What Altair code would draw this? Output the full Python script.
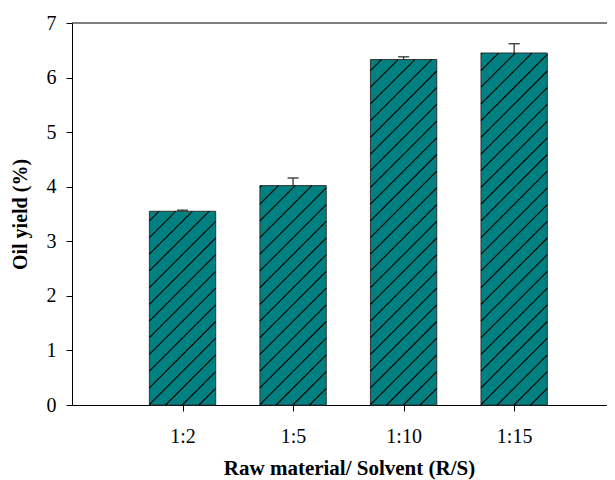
import altair as alt
import pandas as pd

# ---- data ----
categories = ["1:2", "1:5", "1:10", "1:15"]
positions = [1, 2, 3, 4]
yields = [3.55, 4.02, 6.33, 6.45]
errors = [0.02, 0.14, 0.05, 0.17]

# ---- layout constants ----
W, H = 535, 382
XMAX, YMAX = 4.84, 7
BAR_W = 0.6
CAP_W = 0.1
HATCH_SPACING = 16.7  # px, vertical distance between hatch lines
FONT = "Liberation Serif"
TEAL = "#008080"

bars = pd.DataFrame({
    "cat": categories,
    "pos": positions,
    "val": yields,
    "err": errors,
})
bars["x0"] = bars["pos"] - BAR_W / 2
bars["x1"] = bars["pos"] + BAR_W / 2
bars["top"] = bars["val"] + bars["err"]
bars["c0"] = bars["pos"] - CAP_W / 2
bars["c1"] = bars["pos"] + CAP_W / 2

# hatch lines (45 degrees in pixel space) derived from each bar's rectangle
pxx = W / XMAX
pxy = H / YMAX
rows = []
for _, b in bars.iterrows():
    w = BAR_W * pxx
    h = b["val"] * pxy
    c = -w
    k = 0
    while c < h:
        sx = max(0.0, -c)
        ex = min(w, h - c)
        if ex > sx:
            rows.append({
                "hx": b["x0"] + sx / pxx,
                "hy": (sx + c) / pxy,
                "hx2": b["x0"] + ex / pxx,
                "hy2": (ex + c) / pxy,
            })
        k += 1
        c = -w + k * HATCH_SPACING
hatch = pd.DataFrame(rows)

label_expr = " : ".join(
    [f"datum.value == {p} ? '{c}'" for p, c in zip(positions, categories)]
) + " : ''"

xscale = alt.Scale(domain=[0, XMAX], nice=False, zero=False)
yscale = alt.Scale(domain=[0, YMAX], nice=False)

xaxis = alt.Axis(
    values=positions, labelExpr=label_expr, title="Raw material/ Solvent (R/S)",
    grid=False, tickSize=6, labelPadding=31, labelBaseline="alphabetic",
    labelFontSize=20, titleFontSize=21, titleFontWeight="bold",
    titleX=277, titleY=69, titleBaseline="alphabetic", titleAlign="center",
    titleAnchor="start",
)
yaxis = alt.Axis(
    values=list(range(0, 8)), format="d", title="Oil yield (%)", grid=False,
    tickSize=6, labelPadding=10, labelFontSize=20, titleFontSize=20,
    titleFontWeight="bold", titleX=-46, titleY=191, titleAngle=270,
    titleBaseline="alphabetic", titleAlign="center", titleAnchor="start",
)

base = alt.Chart(bars)

bar_layer = base.mark_bar(fill=TEAL, stroke="#333333", strokeWidth=1).encode(
    x=alt.X("x0:Q", scale=xscale, axis=xaxis),
    x2="x1:Q",
    y=alt.Y("val:Q", scale=yscale, axis=yaxis),
    y2=alt.datum(0),
)

hatch_layer = alt.Chart(hatch).mark_rule(color="black", strokeWidth=1.1).encode(
    x=alt.X("hx:Q", scale=xscale),
    x2="hx2:Q",
    y=alt.Y("hy:Q", scale=yscale),
    y2="hy2:Q",
)

err_layer = base.mark_rule(color="#333333", strokeWidth=1.3).encode(
    x=alt.X("pos:Q", scale=xscale),
    y=alt.Y("val:Q", scale=yscale),
    y2="top:Q",
)
cap_layer = base.mark_rule(color="#333333", strokeWidth=1.3).encode(
    x=alt.X("c0:Q", scale=xscale),
    x2="c1:Q",
    y=alt.Y("top:Q", scale=yscale),
)

top_line = alt.Chart(pd.DataFrame({"t": [YMAX]})).mark_rule(
    color="black", strokeWidth=1
).encode(y=alt.Y("t:Q", scale=yscale))

chart = alt.layer(
    bar_layer, hatch_layer, err_layer, cap_layer, top_line
).properties(
    width=W, height=H,
    autosize=alt.AutoSizeParams(type="none"),
    padding={"left": 64, "top": 15, "right": 0, "bottom": 75},
).configure_view(stroke=None).configure_axis(
    labelFont=FONT, titleFont=FONT, labelColor="black", titleColor="black",
    domainColor="black", tickColor="black", domainWidth=1, tickWidth=1,
)

chart.save("out.html", embed_options={"renderer": "svg", "actions": False})
